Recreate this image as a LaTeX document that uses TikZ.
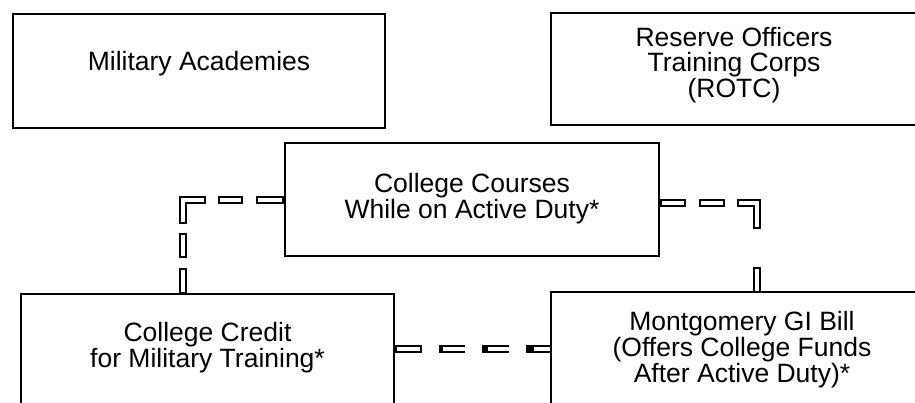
\documentclass[tikz,border=0pt]{standalone}
\usepackage{fontspec}
\setmainfont{Liberation Sans}
\usetikzlibrary{calc}

\begin{document}
\begin{tikzpicture}[
    x=1pt, y=-1pt,
    box/.style={draw, line width=2pt, align=center, inner sep=0pt, anchor=north west,
        font=\fontsize{26.5pt}{24.5pt}\selectfont},
    link/.style 2 args={line width=7.5pt, dash pattern=#1,
        postaction={draw=white, line width=3.5pt, dash pattern=#2}}
]
\useasboundingbox (0,0) rectangle (915,402);

\node[box, minimum width=372pt, text height=56pt, text depth=58pt] (acad) at (12,13) {Military Academies};
\node[box, minimum width=366pt, text height=84pt, text depth=28pt] (rotc) at (550,12) {Reserve Officers\\Training Corps\\(ROTC)};
\node[box, minimum width=374pt, text height=75pt, text depth=38pt] (courses) at (284,142) {College Courses\\While on Active Duty*};
\node[box, minimum width=373pt, text height=73pt, text depth=60pt] (credit) at (20,293) {College Credit\\for Military Training*};
\node[box, minimum width=382pt, text height=90pt, text depth=40pt] (gibill) at (550,291) {Montgomery GI Bill\\(Offers College Funds\\After Active Duty)*};

\coordinate (lbend) at (183,200);
\coordinate (rbend) at (757,203);
\coordinate (bline) at (0,349);

\draw[link={on 28pt off 13pt on 25pt off 12pt on 47pt off 9pt on 25pt off 10pt on 26pt off 10pt}
    {on 0pt off 2pt on 24pt off 17pt on 21pt off 16pt on 43pt off 13pt on 21pt off 14pt on 22pt off 20pt}]
    (courses.west |- lbend) -| (lbend |- credit.north);
\draw[link={on 26pt off 13pt on 26pt off 12pt on 46pt off 38pt on 26pt off 10pt}
    {on 0pt off 2pt on 22pt off 17pt on 22pt off 16pt on 42pt off 42pt on 22pt off 20pt}]
    (courses.east |- rbend) -| (rbend |- gibill.north);
\draw[link={on 26.5pt off 17pt}{on 0pt off 2pt on 22.5pt off 21pt}]
    (credit.east |- bline) -- (gibill.west |- bline);
\end{tikzpicture}
\end{document}
